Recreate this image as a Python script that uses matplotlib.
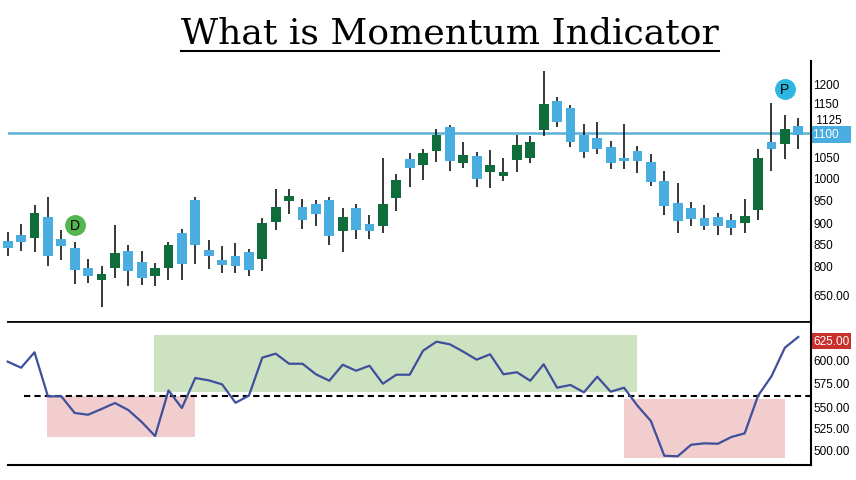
import numpy as np
import matplotlib.pyplot as plt
from matplotlib.lines import Line2D

plt.rc('font', family=['Liberation Sans', 'DejaVu Sans'], size=8.5)

# daily bars
opens = [855, 868, 861, 909, 859, 839, 793, 766, 793, 832,
         807, 775, 793, 873, 948, 834, 811, 820, 830, 814,
         898, 945, 932, 939, 948, 877, 930, 893, 889, 952,
         1041, 1027, 1059, 1114, 1032, 1048, 1011, 1002, 1039, 1043,
         1107, 1173, 1157, 1095, 1089, 1068, 1043, 1059, 1034, 991,
         941, 930, 907, 909, 902, 895, 925, 1080, 1075, 1116]
highs = [875, 893, 936, 955, 880, 852, 814, 798, 891, 845,
         832, 805, 852, 882, 955, 857, 843, 850, 836, 907,
         973, 973, 950, 948, 955, 930, 939, 914, 1043, 1007,
         1055, 1064, 1109, 1118, 1080, 1057, 1061, 1043, 1095, 1093,
         1241, 1182, 1164, 1120, 1125, 1082, 1120, 1070, 1052, 1014,
         986, 943, 936, 918, 916, 950, 1064, 1168, 1141, 1134]
lows = [820, 832, 830, 798, 811, 757, 759, 705, 770, 752,
        755, 752, 766, 766, 802, 791, 782, 782, 775, 786,
        880, 916, 882, 889, 845, 830, 859, 859, 873, 923,
        977, 993, 1034, 1014, 1020, 977, 975, 991, 1011, 1032,
        1093, 1114, 1068, 1043, 1052, 1018, 1018, 1009, 980, 914,
        873, 889, 880, 868, 868, 873, 902, 1014, 1041, 1064]
closes = [839, 852, 918, 820, 843, 789, 775, 780, 827, 786,
          770, 793, 845, 802, 845, 820, 800, 798, 789, 895,
          932, 957, 902, 916, 866, 909, 880, 877, 939, 993,
          1020, 1055, 1095, 1036, 1050, 995, 1027, 1011, 1073, 1080,
          1166, 1125, 1080, 1057, 1064, 1032, 1036, 1036, 989, 934,
          900, 905, 889, 889, 884, 911, 1043, 1064, 1109, 1095]

momentum = [596.3, 589.6, 606.6, 558.1, 558.1, 539.7, 537.8, 544.1, 550.7, 543.0,
            529.8, 514.3, 564.5, 545.2, 578.3, 575.7, 571.3, 551.0, 558.8, 600.7,
            605.1, 594.0, 594.0, 582.4, 575.3, 592.9, 586.3, 591.8, 572.0, 581.9,
            581.9, 608.4, 618.3, 615.4, 607.3, 598.5, 604.4, 582.4, 584.6, 575.3,
            593.4, 567.6, 570.6, 562.5, 579.7, 563.2, 567.6, 547.7, 530.9, 492.6,
            492.0, 504.7, 506.3, 505.8, 513.2, 517.3, 558.8, 580.2, 611.7, 623.5]

resistance = 1100
signal_level = 558

price_tick_at = [1213, 1170, 1133, 1100, 1046, 998, 948, 897, 849, 798, 733]
price_tick_text = ['1200', '1150', ' 1125', '1100   ', '1050', '1000', '950',
                   '900', '850', '800', '650.00']
mom_tick_at = [620.5, 599.2, 572.8, 547.1, 523.9, 500]
mom_tick_text = ['625.00', '600.00', '575.00', '550.00', '525.00', '500.00']

# shaded zones on the momentum panel: (from bar, to bar, low, high)
bull_zones = [(10.9, 47.0, 562.8, 625.7)]
bear_zones = [(2.9, 14.0, 513.2, 558.4), (46.0, 58.0, 490.1, 555.1)]

# circled letters: (bar, price, letter, colour)
marks = [(5, 891, 'D', '#55b550'), (58, 1200, 'P', '#2cb6e2')]

blue = '#4aade0'
green = '#0f6c3b'

fig = plt.figure(figsize=(8.56, 4.81), dpi=100)
ax1 = fig.add_axes([8/856, 158/481, 803/856, 261/481])
ax2 = fig.add_axes([8/856, 15/481, 803/856, 143/481])

x = np.arange(len(opens))
o = np.array(opens)
c = np.array(closes)
cols = np.where(c >= o, green, blue)

ax1.axhline(resistance, color='#5ab3d4', lw=1.8, zorder=1)
ax1.vlines(x, lows, highs, color='black', lw=1.1, zorder=2, clip_on=False)
ax1.bar(x, c - o, bottom=o, width=0.74, color=cols, zorder=3, clip_on=False)

for i, p, letter, col in marks:
    ax1.plot(i, p, 'o', ms=14, color=col, zorder=4, clip_on=False)
    ax1.text(i, p, letter, ha='center', va='center', fontsize=10, zorder=5)

ax1.set_xlim(0.022, 59.95)
ax1.set_ylim(670.5, 1263.6)
ax1.set_xticks([])
ax1.yaxis.tick_right()
ax1.set_yticks(price_tick_at, price_tick_text)
ax1.tick_params(axis='y', length=0, pad=1.5)
for s in ['top', 'left']:
    ax1.spines[s].set_visible(False)
ax1.spines['right'].set_linewidth(1.5)
ax1.spines['bottom'].set_linewidth(1.2)
for lbl in ax1.get_yticklabels():
    if lbl.get_text().strip() == str(resistance):
        lbl.set_color('white')
        lbl.set_bbox(dict(facecolor=blue, edgecolor='none', pad=1.5))

# momentum panel
for x0, x1, y0, y1 in bull_zones:
    ax2.fill_between([x0, x1], y0, y1, color='#cde2c1', lw=0, zorder=1)
for x0, x1, y0, y1 in bear_zones:
    ax2.fill_between([x0, x1], y0, y1, color='#f1cdcd', lw=0, zorder=1)
ax2.axhline(signal_level, xmin=0.02, xmax=1, color='black', lw=1.5,
            dashes=(3, 2), zorder=2)
ax2.plot(x, momentum, color='#3e4f9c', lw=1.6, zorder=3, clip_on=False)

ax2.set_xlim(0.022, 59.95)
ax2.set_ylim(482.4, 640.0)
ax2.set_xticks([])
ax2.yaxis.tick_right()
ax2.set_yticks(mom_tick_at, mom_tick_text)
ax2.tick_params(axis='y', length=0, pad=1.5)
ax2.spines['left'].set_visible(False)
ax2.spines['top'].set_linewidth(1.2)
for s in ['right', 'bottom']:
    ax2.spines[s].set_linewidth(1.5)
top_lbl = ax2.get_yticklabels()[0]
top_lbl.set_color('white')
top_lbl.set_bbox(dict(facecolor='#c9302c', edgecolor='none', pad=1.5))

title = fig.text(0.526, 1 - 43/481, 'What is Momentum Indicator',
                 family='DejaVu Serif', fontsize=26, ha='center', va='baseline')
fig.canvas.draw()
bb = title.get_window_extent().transformed(fig.transFigure.inverted())
fig.add_artist(Line2D([bb.x0, bb.x1], [1 - 52/481] * 2, color='black', lw=1.5))

fig.savefig('out.png', dpi=100)
